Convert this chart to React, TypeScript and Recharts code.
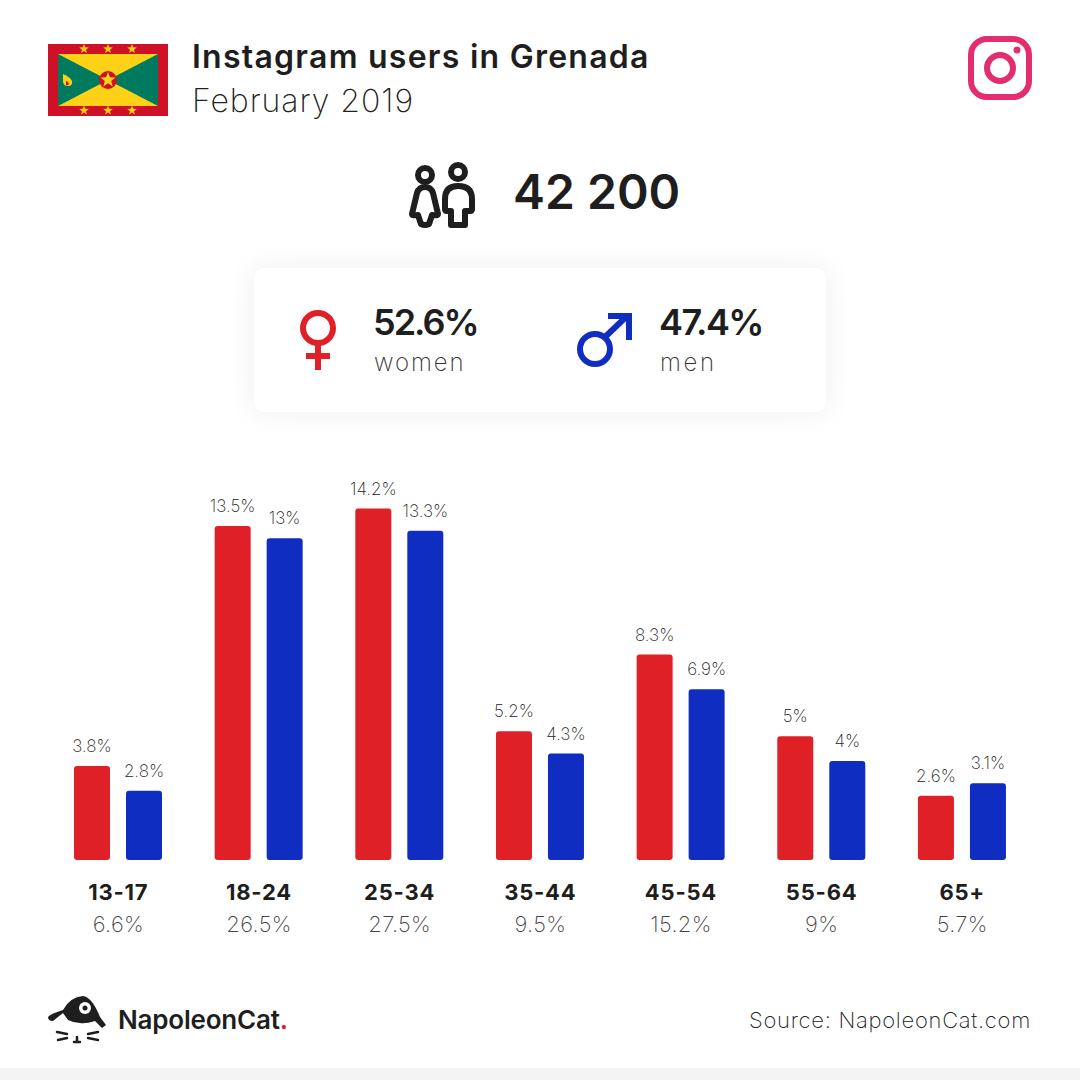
import { BarChart, Bar, XAxis, YAxis, LabelList } from "recharts";

const AGE_GROUPS = ["13-17", "18-24", "25-34", "35-44", "45-54", "55-64", "65+"];
const AGE_SHARES = ["6.6%", "26.5%", "27.5%", "9.5%", "15.2%", "9%", "5.7%"];
const WOMEN = [3.8, 13.5, 14.2, 5.2, 8.3, 5, 2.6];
const MEN = [2.8, 13, 13.3, 4.3, 6.9, 4, 3.1];

const chartData = AGE_GROUPS.map((age, i) => ({ age, women: WOMEN[i], men: MEN[i] }));

const FONT = "Inter, 'Noto Sans', sans-serif";
const DARK = "#1e1e1e";
const RED = "#df2027";
const BLUE = "#0f2dc1";

function AgeTick({ x, y, payload, index }: any) {
  return (
    <g>
      <text x={x} y={y + 32} textAnchor="middle" fontFamily={FONT} fontSize={22} fontWeight={700} fill={DARK} letterSpacing={0.8}>
        {payload.value}
      </text>
      <text x={x} y={y + 64} textAnchor="middle" fontFamily={FONT} fontSize={22} fontWeight={200} fill="#444" letterSpacing={0.3}>
        {AGE_SHARES[index]}
      </text>
    </g>
  );
}

function star(cx: number, cy: number, r: number) {
  const pts: string[] = [];
  for (let i = 0; i < 10; i++) {
    const rad = i % 2 === 0 ? r : r * 0.42;
    const a = (Math.PI / 5) * i - Math.PI / 2;
    pts.push(`${cx + rad * Math.cos(a)},${cy + rad * Math.sin(a)}`);
  }
  return <polygon key={`${cx}-${cy}`} points={pts.join(" ")} fill="#fcd116" />;
}

function Flag() {
  return (
    <g>
      <rect x={48} y={44} width={120} height={72} fill="#ce1126" />
      <rect x={58} y={54} width={100} height={52} fill="#fcd116" />
      <polygon points="58,54 108,80 58,106" fill="#007a5e" />
      <polygon points="158,54 108,80 158,106" fill="#007a5e" />
      <circle cx={108} cy={80} r={9} fill="#ce1126" />
      {star(108, 80, 8)}
      {[84, 108, 132].map((x) => star(x, 49, 5))}
      {[84, 108, 132].map((x) => star(x, 110.5, 5))}
      <path d="M63 74 q7 3 9 7 q1 5 -4 5 q-5 0 -5 -5 z" fill="#fcd116" />
      <path d="M66 81 q3 1 3 3 q-1 2 -3 1 z" fill="#ce1126" />
    </g>
  );
}

function Overlay() {
  return (
    <svg width={1080} height={1080} style={{ position: "absolute", left: 0, top: 0 }} fontFamily={FONT}>
      <Flag />
      <text x={192} y={68} fontSize={32} fontWeight={600} fill={DARK} letterSpacing={1.25}>
        Instagram users in Grenada
      </text>
      <text x={192} y={112} fontSize={32} fontWeight={200} fill="#222" letterSpacing={0.95}>
        February 2019
      </text>

      {/* instagram glyph */}
      <rect x={971} y={39} width={58} height={58} rx={16} fill="none" stroke="#e32d6e" strokeWidth={6} />
      <circle cx={1000} cy={68} r={13} fill="none" stroke="#e32d6e" strokeWidth={6} />
      <circle cx={1017} cy={50} r={3.5} fill="#e32d6e" />

      {/* people glyph */}
      <g fill="none" stroke={DARK} strokeWidth={6} strokeLinejoin="round" strokeLinecap="round">
        <circle cx={425} cy={175} r={7} />
        <circle cx={458} cy={172} r={7} />
        <path d="M425 187 q-6 0 -8 6 l-5 21 q0 2 6 1 l3 9 q4 2 8 0 l3 -9 q6 1 6 -1 l-5 -21 q-2 -6 -8 -6 z" />
        <path d="M451 211 h-4 q-2 0 -2 -2 v-10 q0 -13 13 -13 q14 0 14 13 v10 q0 2 -2 2 h-5 v14 h-14 z" />
      </g>
      <text x={513} y={209} fontSize={48} fontWeight={600} fill={DARK}>
        42 200
      </text>

      {/* female glyph */}
      <g fill="none" stroke={RED} strokeWidth={6}>
        <ellipse cx={318} cy={328} rx={15} ry={15} />
        <path d="M318 343 v27 M306 356 h24" />
      </g>
      <text x={373} y={335} fontSize={36} fontWeight={600} fill={DARK} letterSpacing={-2}>52.6%</text>
      <text x={374} y={371} fontSize={24} fontWeight={200} fill="#333" letterSpacing={1.9}>women</text>

      {/* male glyph */}
      <g fill="none" stroke={BLUE} strokeWidth={6}>
        <circle cx={595} cy={349} r={15} />
        <path d="M605 337 L626 317" />
      </g>
      <polygon points="608,313 632,313 632,340 626,340 626,319 608,319" fill={BLUE} />
      <text x={659} y={335} fontSize={36} fontWeight={600} fill={DARK} letterSpacing={-1.6}>47.4%</text>
      <text x={660} y={371} fontSize={24} fontWeight={200} fill="#333" letterSpacing={2.6}>men</text>

      {/* cat logo */}
      <path
        d="M48 1017 Q50 1014 63 1010 Q70 997 83 996 Q92 997 100 1017 L106 1025 L102 1028 L95 1021 Q85 1024 80 1023 Q74 1023 68 1020 L63 1013 L53 1021 Q48 1021 48 1017 Z"
        fill={DARK}
      />
      <circle cx={85} cy={1008} r={6} fill="#fff" />
      <circle cx={85} cy={1008} r={2.5} fill={DARK} />
      <g fill="none" stroke={DARK} strokeWidth={2.5} strokeLinecap="round">
        <path d="M57 1032 L67 1034 M58 1040 L67 1038 M88 1034 L98 1032 M88 1038 L98 1040" />
        <path d="M77 1037 V1041 M74 1042 H80" />
      </g>
      <text x={118} y={1029} fontSize={26} fontWeight={600} fill={DARK} letterSpacing={-0.2}>
        NapoleonCat<tspan fill={RED}>.</tspan>
      </text>
      <text x={1031} y={1028} textAnchor="end" fontSize={22} fontWeight={200} fill="#222" letterSpacing={0.72}>
        Source: NapoleonCat.com
      </text>
    </svg>
  );
}

export default function App() {
  return (
    <div style={{ position: "absolute", left: 0, top: 0, width: 1080, height: 1080, background: "#fff", overflow: "hidden" }}>
      <div style={{ position: "absolute", left: 0, top: 1068, width: 1080, height: 12, background: "#f4f4f4" }} />
      <div
        style={{
          position: "absolute",
          left: 254,
          top: 268,
          width: 572,
          height: 144,
          borderRadius: 10,
          background: "#fff",
          boxShadow: "0 0 30px rgba(0,0,0,0.07)",
        }}
      />
      <div style={{ position: "absolute", left: 0, top: 0 }}>
        <BarChart
          width={1080}
          height={1080}
          data={chartData}
          barSize={36}
          barGap={16}
          margin={{ top: 464, right: 47.4, bottom: 140, left: 48 }}
        >
          <XAxis dataKey="age" axisLine={false} tickLine={false} height={80} tick={AgeTick} interval={0} />
          <YAxis hide domain={[0, 16]} />
          <Bar dataKey="women" fill={RED} radius={3} isAnimationActive={false}>
            <LabelList
              dataKey="women"
              position="top"
              offset={14}
              formatter={(v: any) => `${v}%`}
              style={{ fontFamily: FONT, fontSize: 17, fontWeight: 200, fill: "#222" }}
            />
          </Bar>
          <Bar dataKey="men" fill={BLUE} radius={3} isAnimationActive={false}>
            <LabelList
              dataKey="men"
              position="top"
              offset={14}
              formatter={(v: any) => `${v}%`}
              style={{ fontFamily: FONT, fontSize: 17, fontWeight: 200, fill: "#222" }}
            />
          </Bar>
        </BarChart>
      </div>
      <Overlay />
    </div>
  );
}
